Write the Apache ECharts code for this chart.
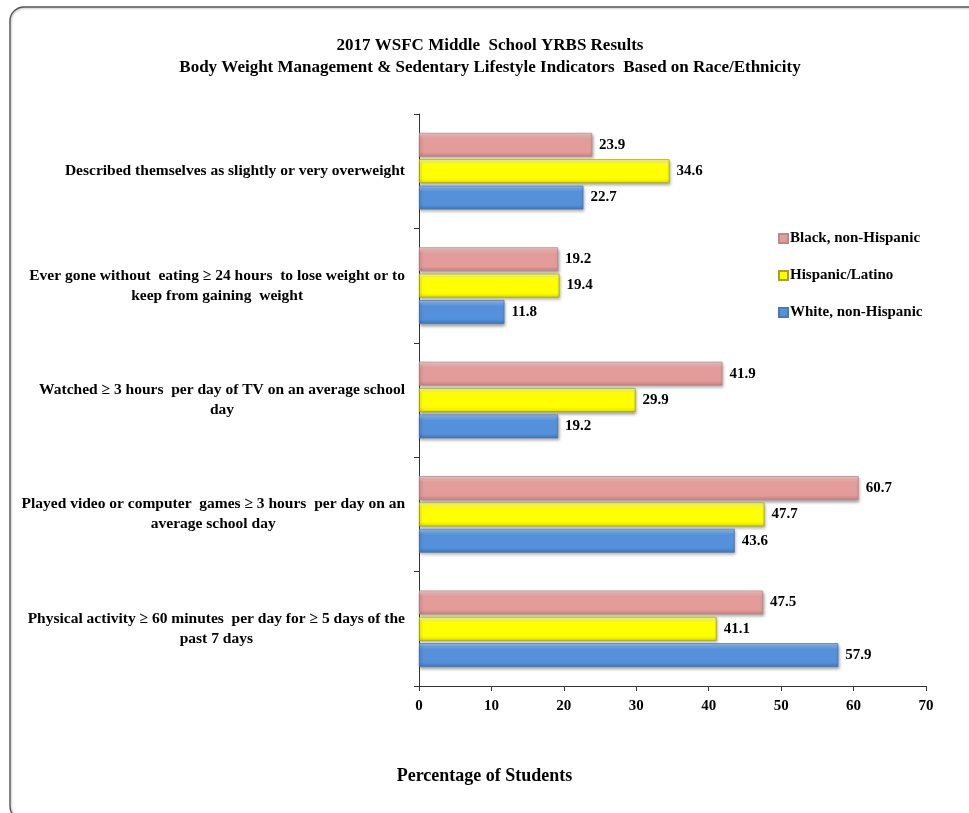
<!DOCTYPE html>
<html>
<head>
<meta charset="utf-8">
<title>2017 WSFC Middle School YRBS Results</title>
<script src="https://cdn.jsdelivr.net/npm/echarts@6/dist/echarts.min.js"></script>
<style>
  html, body { margin: 0; padding: 0; background: #ffffff; }
  #chart { width: 969px; height: 813px; }
</style>
</head>
<body>
<div id="chart"></div>
<script>
// Indicators, listed top to bottom
const categories = [
  'Described themselves as slightly or very overweight',
  'Ever gone without  eating \u2265 24 hours  to lose weight or to\nkeep from gaining  weight',
  'Watched \u2265 3 hours  per day of TV on an average school\nday',
  'Played video or computer  games \u2265 3 hours  per day on an\naverage school day',
  'Physical activity \u2265 60 minutes  per day for \u2265 5 days of the\npast 7 days'
];

const seriesNames = ['Black, non-Hispanic', 'Hispanic/Latino', 'White, non-Hispanic'];

// Percentage of students, one array per group
const blackValues    = [23.9, 19.2, 41.9, 60.7, 47.5];
const hispanicValues = [34.6, 19.4, 29.9, 47.7, 41.1];
const whiteValues    = [22.7, 11.8, 19.2, 43.6, 57.9];

const xTicks = [0, 10, 20, 30, 40, 50, 60, 70];

const FONT = '"Liberation Serif", "Times New Roman", serif';

function bevel(light, base, dark) {
  return new echarts.graphic.LinearGradient(0, 0, 0, 1, [
    { offset: 0, color: light },
    { offset: 0.25, color: base },
    { offset: 0.8, color: base },
    { offset: 1, color: dark }
  ]);
}

const styles = [
  { fill: bevel('#f6d2d1', '#e39c9a', '#c4807e'), border: '#b98a89' },
  { fill: bevel('#ffff9a', '#ffff00', '#dede00'), border: '#a8a800' },
  { fill: bevel('#9fc4ef', '#5591da', '#3f74b8'), border: '#4a78b0' }
];

const valueSets = [blackValues, hispanicValues, whiteValues];

const chart = echarts.init(document.getElementById('chart'), null, { renderer: 'canvas' });

chart.setOption({
  backgroundColor: '#ffffff',
  animation: false,
  graphic: [{
    type: 'rect',
    shape: { x: 10, y: 7, width: 1000, height: 813, r: 14 },
    style: { fill: 'none', stroke: '#555555', lineWidth: 1.4,
             shadowColor: 'rgba(0,0,0,0.25)', shadowBlur: 2, shadowOffsetX: 1, shadowOffsetY: 1 },
    silent: true,
    z: -10
  }, {
    // value axis title, centred on the page
    type: 'text',
    left: 'center',
    top: 767,
    style: {
      text: 'Percentage of Students',
      fontFamily: FONT, fontWeight: 'bold', fontSize: 18, fill: '#000'
    },
    silent: true
  }],
  title: {
    text: '2017 WSFC Middle  School YRBS Results\nBody Weight Management & Sedentary Lifestyle Indicators  Based on Race/Ethnicity',
    left: 485,
    textAlign: 'center',
    top: 30,
    textStyle: { fontFamily: FONT, fontWeight: 'bold', fontSize: 17, color: '#000', lineHeight: 22 }
  },
  legend: {
    orient: 'vertical',
    left: 773,
    top: 226,
    itemWidth: 9,
    itemHeight: 9,
    itemGap: 22,
    icon: 'rect',
    textStyle: { fontFamily: FONT, fontWeight: 'bold', fontSize: 15, color: '#000', padding: [0, 0, 0, -3] },
    data: seriesNames
  },
  grid: { left: 419, right: 43, top: 114, bottom: 127, containLabel: false },
  xAxis: {
    type: 'value',
    min: xTicks[0],
    max: xTicks[xTicks.length - 1],
    interval: 10,
    axisLine: { show: true, lineStyle: { color: '#333', width: 1 } },
    axisTick: { show: true, length: 5, lineStyle: { color: '#333' } },
    axisLabel: { fontFamily: FONT, fontWeight: 'bold', fontSize: 15, color: '#000', margin: 13 },
    splitLine: { show: false }
  },
  yAxis: {
    type: 'category',
    inverse: true,
    data: categories,
    axisLine: { show: true, lineStyle: { color: '#333', width: 1 } },
    axisTick: { show: true, length: 5, lineStyle: { color: '#333' } },
    axisLabel: {
      margin: 14,
      formatter: function (v) {
        return v.split('\n').map(function (line) { return '{c|' + line + '}'; }).join('\n');
      },
      rich: {
        c: { fontFamily: FONT, fontWeight: 'bold', fontSize: 15.5, color: '#000', align: 'center', lineHeight: 20 }
      }
    },
    splitLine: { show: false }
  },
  series: seriesNames.map(function (name, i) {
    return {
      name: name,
      type: 'bar',
      data: valueSets[i],
      barGap: '10%',
      barCategoryGap: '33%',
      itemStyle: {
        color: styles[i].fill,
        borderColor: styles[i].border,
        borderWidth: 0.8,
        shadowColor: 'rgba(0,0,0,0.35)',
        shadowBlur: 3,
        shadowOffsetX: 1,
        shadowOffsetY: 2
      },
      label: {
        show: true,
        position: 'right',
        distance: 7,
        fontFamily: FONT,
        fontWeight: 'bold',
        fontSize: 15,
        color: '#000',
        formatter: function (p) { return p.value.toFixed(1); }
      }
    };
  })
});
</script>
</body>
</html>
